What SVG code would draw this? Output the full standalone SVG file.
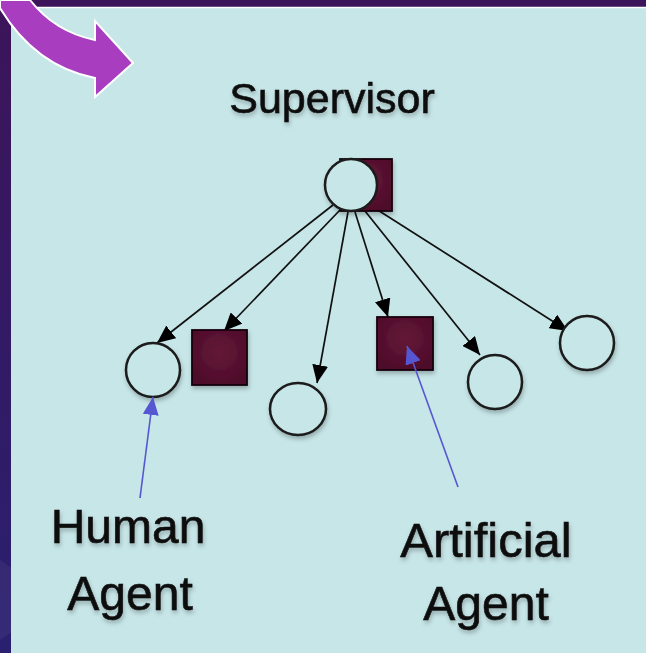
<svg xmlns="http://www.w3.org/2000/svg" width="646" height="653" viewBox="0 0 646 653">
<defs>
<linearGradient id="bg" x1="0" y1="0" x2="0" y2="1">
<stop offset="0" stop-color="#3c1459"/>
<stop offset="1" stop-color="#2a2070"/>
</linearGradient>
<radialGradient id="sq" cx="0.5" cy="0.4" r="0.6">
<stop offset="0" stop-color="#641838"/>
<stop offset="1" stop-color="#4e0c2a"/>
</radialGradient>
<filter id="sh" x="-20%" y="-20%" width="140%" height="150%">
<feDropShadow dx="1" dy="3" stdDeviation="2" flood-color="#000" flood-opacity="0.25"/>
</filter>
<marker id="ah" markerUnits="userSpaceOnUse" markerWidth="20" markerHeight="16" refX="18" refY="8" orient="auto">
<path d="M0,0 L18,8 L0,16 Z" fill="#000"/>
</marker>
<marker id="bh" markerUnits="userSpaceOnUse" markerWidth="20" markerHeight="16" refX="18" refY="8" orient="auto">
<path d="M0,0 L18,8 L0,16 Z" fill="#5656d2"/>
</marker>
<style>
.node{fill:#c7e6e8;stroke:#1a1a1a;stroke-width:2.5}
.box{fill:url(#sq);stroke:#14060c;stroke-width:1.8}
.lbl{font-family:"Liberation Sans",Arial,sans-serif;fill:#0c0c0c;stroke:#0c0c0c;stroke-width:0.6;text-anchor:middle}
.edge{stroke:#111;stroke-width:1.7;fill:none;marker-end:url(#ah)}
.ptr{stroke:#5656d2;stroke-width:1.6;fill:none;marker-end:url(#bh)}
</style>
</defs>
<rect x="0" y="0" width="646" height="653" fill="url(#bg)"/>
<path d="M0,560 L60,600 L0,640 Z" fill="#ffffff" opacity="0.05"/>
<rect x="11" y="7" width="635" height="646" fill="#c7e6e8"/>
<line x1="11" y1="7.5" x2="646" y2="7.5" stroke="#ffffff" stroke-width="1.5"/>
<path d="M30,0 Q55,32 95,40 L95,21 L133,63 L95,97 L95,78 Q35,66 0,8 L0,0 Z" fill="#a83dbf" stroke="#ffffff" stroke-width="2" stroke-linejoin="miter"/>

<g id="connectors">
<line class="edge" x1="333" y1="205" x2="157" y2="343"/>
<line class="edge" x1="340" y1="210" x2="224" y2="331"/>
<line class="edge" x1="348" y1="212" x2="317" y2="383"/>
<line class="edge" x1="355" y1="212" x2="388" y2="317"/>
<line class="edge" x1="365" y1="211" x2="480" y2="355"/>
<line class="edge" x1="373" y1="207" x2="568" y2="331"/>
</g>

<g id="supervisor" filter="url(#sh)">
<rect class="box" x="340" y="159" width="52" height="52"/>
<circle class="node" cx="351" cy="185" r="26"/>
<text class="lbl" x="332" y="113" font-size="43">Supervisor</text>
</g>
<g id="human1" filter="url(#sh)"><circle class="node" cx="153" cy="370" r="27"/></g>
<g id="artificial1" filter="url(#sh)"><rect class="box" x="192" y="330" width="55" height="55"/></g>
<g id="human2" filter="url(#sh)"><ellipse class="node" cx="298" cy="409" rx="28" ry="26"/></g>
<g id="artificial2" filter="url(#sh)"><rect class="box" x="377" y="317" width="56" height="53"/></g>
<g id="human3" filter="url(#sh)"><circle class="node" cx="495" cy="382" r="27"/></g>
<g id="human4" filter="url(#sh)"><circle class="node" cx="587" cy="343" r="27"/></g>

<g id="pointers">
<line class="ptr" x1="140" y1="498" x2="153" y2="397"/>
<line class="ptr" x1="458" y1="487" x2="407" y2="346"/>
</g>

<g id="label-human" filter="url(#sh)">
<text class="lbl" x="128" y="543" font-size="48">Human</text>
<text class="lbl" x="130" y="610" font-size="48">Agent</text>
</g>
<g id="label-artificial" filter="url(#sh)">
<text class="lbl" x="486" y="557" font-size="49">Artificial</text>
<text class="lbl" x="486" y="620" font-size="48">Agent</text>
</g>
</svg>
